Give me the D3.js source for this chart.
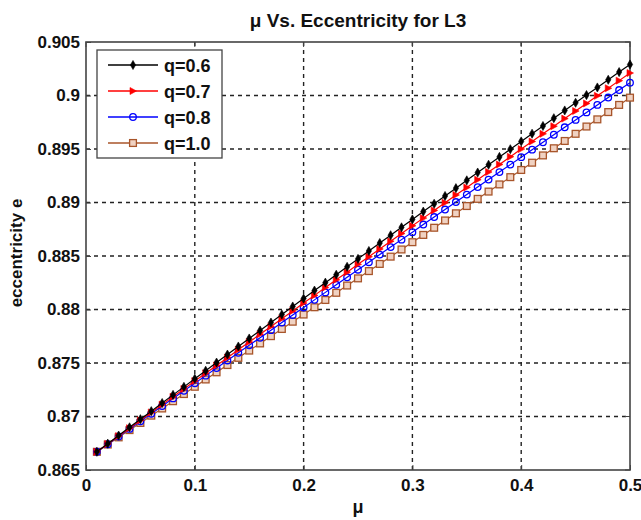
<!DOCTYPE html>
<html><head><meta charset="utf-8">
<script src="https://cdn.jsdelivr.net/npm/d3@7"></script>
<style>body{margin:0;background:#fff}svg{display:block}text{font-family:Arial,"Liberation Sans",sans-serif;font-weight:bold}</style>
</head><body><svg id="c" width="641" height="520"></svg>
<script>
const mu = [0.01,0.02,0.03,0.04,0.05,0.06,0.07,0.08,0.09,0.10,0.11,0.12,0.13,0.14,0.15,0.16,0.17,0.18,0.19,0.20,0.21,0.22,0.23,0.24,0.25,0.26,0.27,0.28,0.29,0.30,0.31,0.32,0.33,0.34,0.35,0.36,0.37,0.38,0.39,0.40,0.41,0.42,0.43,0.44,0.45,0.46,0.47,0.48,0.49,0.50];
const q06 = [0.86670,0.86746,0.86822,0.86899,0.86975,0.87050,0.87126,0.87202,0.87277,0.87353,0.87428,0.87504,0.87579,0.87654,0.87729,0.87804,0.87878,0.87953,0.88028,0.88102,0.88177,0.88251,0.88325,0.88399,0.88473,0.88547,0.88621,0.88694,0.88768,0.88842,0.88915,0.88988,0.89061,0.89134,0.89207,0.89280,0.89353,0.89426,0.89498,0.89571,0.89643,0.89715,0.89788,0.89860,0.89932,0.90004,0.90075,0.90147,0.90219,0.90290];
const q07 = [0.86670,0.86744,0.86817,0.86891,0.86964,0.87038,0.87111,0.87185,0.87258,0.87331,0.87404,0.87477,0.87550,0.87623,0.87696,0.87769,0.87842,0.87914,0.87987,0.88060,0.88132,0.88205,0.88277,0.88349,0.88422,0.88494,0.88566,0.88638,0.88710,0.88782,0.88854,0.88926,0.88998,0.89070,0.89141,0.89213,0.89285,0.89356,0.89428,0.89499,0.89570,0.89642,0.89713,0.89784,0.89855,0.89926,0.89997,0.90068,0.90139,0.90210];
const q08 = [0.86670,0.86741,0.86813,0.86884,0.86955,0.87026,0.87098,0.87169,0.87240,0.87311,0.87382,0.87453,0.87524,0.87595,0.87666,0.87736,0.87807,0.87878,0.87949,0.88019,0.88090,0.88160,0.88231,0.88301,0.88372,0.88442,0.88513,0.88583,0.88653,0.88723,0.88794,0.88864,0.88934,0.89004,0.89074,0.89144,0.89214,0.89284,0.89354,0.89424,0.89494,0.89563,0.89633,0.89703,0.89772,0.89842,0.89912,0.89981,0.90051,0.90120];
const q10 = [0.86670,0.86738,0.86805,0.86873,0.86940,0.87008,0.87075,0.87143,0.87210,0.87278,0.87346,0.87413,0.87481,0.87548,0.87616,0.87683,0.87751,0.87818,0.87886,0.87953,0.88021,0.88089,0.88156,0.88224,0.88291,0.88359,0.88426,0.88494,0.88561,0.88629,0.88697,0.88764,0.88832,0.88899,0.88967,0.89034,0.89102,0.89169,0.89237,0.89304,0.89372,0.89440,0.89507,0.89575,0.89642,0.89710,0.89777,0.89845,0.89912,0.89980];
const seriesNames = ["q=0.6","q=0.7","q=0.8","q=1.0"];
const xTicks = [0,0.1,0.2,0.3,0.4,0.5];
const xTickLabels = ["0","0.1","0.2","0.3","0.4","0.5"];
const yTicks = [0.865,0.87,0.875,0.88,0.885,0.89,0.895,0.9,0.905];
const yTickLabels = ["0.865","0.87","0.875","0.88","0.885","0.89","0.895","0.9","0.905"];

const L=86,R=630,T=42,B=470;
const svg=d3.select("#c");
const x=d3.scaleLinear().domain([0,0.5]).range([L,R]);
const y=d3.scaleLinear().domain([0.865,0.905]).range([B,T]);

// grid
const g=svg.append("g");
g.selectAll(".vg").data(xTicks.slice(1,-1)).join("line")
 .attr("x1",d=>x(d)).attr("x2",d=>x(d)).attr("y1",T).attr("y2",B)
 .attr("stroke","#222").attr("stroke-width",1.4).attr("stroke-dasharray","4,4");
g.selectAll(".hg").data(yTicks.slice(1,-1)).join("line")
 .attr("y1",d=>y(d)).attr("y2",d=>y(d)).attr("x1",L).attr("x2",R)
 .attr("stroke","#222").attr("stroke-width",1.4).attr("stroke-dasharray","4,4");

// axes
const ax=d3.axisBottom(x).tickValues(xTicks).tickFormat((d,i)=>xTickLabels[i]).tickSize(-5).tickPadding(9);
const axG=svg.append("g").attr("transform",`translate(0,${B})`).call(ax);
const ay=d3.axisLeft(y).tickValues(yTicks).tickFormat((d,i)=>yTickLabels[i]).tickSize(-5).tickPadding(6);
const ayG=svg.append("g").attr("transform",`translate(${L},0)`).call(ay);
[axG,ayG].forEach(a=>{a.select(".domain").remove();a.selectAll("line").attr("stroke","#444");
 a.selectAll("text").attr("font-size","17px").attr("font-weight","bold").attr("fill","#111").attr("font-family","Arial, Liberation Sans, sans-serif");});
// top/right ticks
svg.append("g").selectAll("line").data(xTicks).join("line").attr("x1",d=>x(d)).attr("x2",d=>x(d)).attr("y1",T).attr("y2",T+5).attr("stroke","#444");
svg.append("g").selectAll("line").data(yTicks).join("line").attr("y1",d=>y(d)).attr("y2",d=>y(d)).attr("x1",R).attr("x2",R-5).attr("stroke","#444");
svg.append("rect").attr("x",L).attr("y",T).attr("width",R-L).attr("height",B-T).attr("fill","none").attr("stroke","#444").attr("stroke-width",1.6);

// series
const cols=["#000000","#ff0000","#0000ff","#a8552a"];
const data=[q06,q07,q08,q10];
const line=d3.line().x((d,i)=>x(mu[i])).y(d=>y(d));
function marker(sel,k,cx,cy){
  if(k===0) sel.append("path").attr("d",d3.symbol(d3.symbolDiamond,24)()).attr("transform",`translate(${cx},${cy})`).attr("fill","#000").attr("stroke","#000").attr("stroke-width",0.6);
  else if(k===1) sel.append("path").attr("d","M-3,-3.5L3.5,0L-3,3.5Z").attr("transform",`translate(${cx},${cy})`).attr("fill","#ff0000").attr("stroke","#ff0000").attr("stroke-width",0.6);
  else if(k===2) sel.append("circle").attr("cx",cx).attr("cy",cy).attr("r",3.3).attr("fill","none").attr("stroke","#0000ff").attr("stroke-width",1.3);
  else sel.append("rect").attr("x",cx-3.4).attr("y",cy-3.4).attr("width",6.8).attr("height",6.8).attr("fill","#f0d2c2").attr("stroke",cols[3]).attr("stroke-width",1.3);
}
[3,2,1,0].forEach(k=>{
  const sg=svg.append("g");
  sg.append("path").datum(data[k]).attr("d",line).attr("fill","none").attr("stroke",cols[k]).attr("stroke-width",1.2);
  data[k].forEach((v,i)=>marker(sg,k,x(mu[i]),y(v)));
});

// legend
const lg=svg.append("g");
lg.append("rect").attr("x",97).attr("y",50).attr("width",125).attr("height",108).attr("fill","#fff").attr("stroke","#444").attr("stroke-width",1.3);
seriesNames.forEach((n,k)=>{
  const yy=65+k*26;
  lg.append("line").attr("x1",108).attr("x2",158).attr("y1",yy).attr("y2",yy).attr("stroke",cols[k]).attr("stroke-width",1.6);
  marker(lg,k,133,yy);
  lg.append("text").attr("x",164).attr("y",yy+6.5).attr("font-size","18px").attr("fill","#111").text(n);
});

// titles
svg.append("text").attr("x",358).attr("y",27).attr("text-anchor","middle").attr("font-size","19px").attr("fill","#111").text("μ Vs. Eccentricity for L3");
svg.append("text").attr("x",358).attr("y",513).attr("text-anchor","middle").attr("font-size","18px").attr("fill","#111").text("μ");
svg.append("text").attr("transform","translate(22,253) rotate(-90)").attr("text-anchor","middle").attr("font-size","17px").attr("fill","#111").text("eccentricity e");
</script></body></html>
